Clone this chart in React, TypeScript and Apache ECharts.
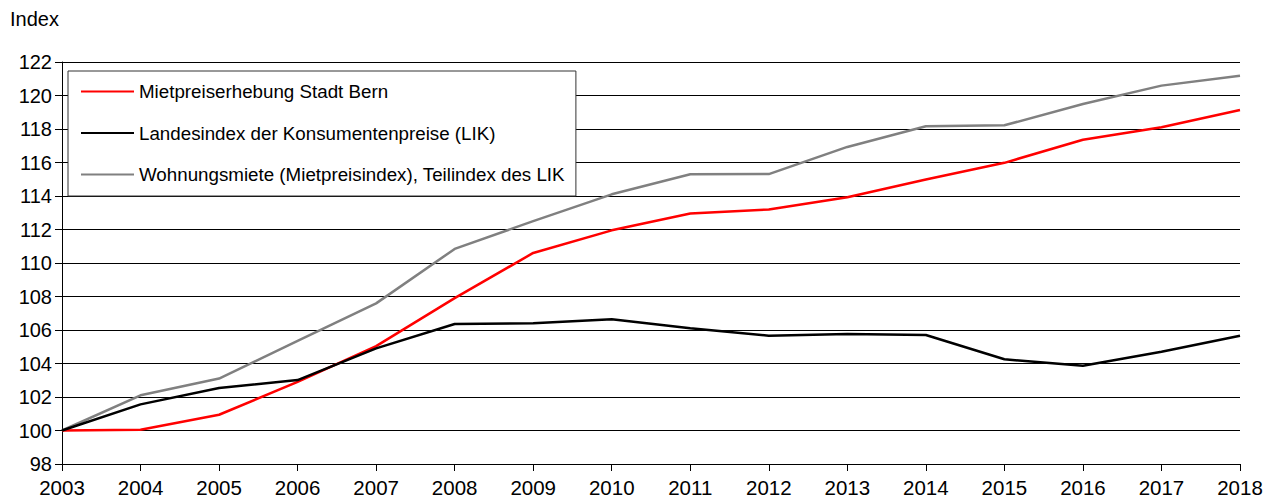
import React, { useEffect, useRef } from "react";
import * as echarts from "echarts";

const years = ["2003","2004","2005","2006","2007","2008","2009","2010","2011","2012","2013","2014","2015","2016","2017","2018"];
const mietpreisBern = [100, 100.05, 100.94, 102.9, 105.04, 107.9, 110.6, 111.95, 112.95, 113.2, 113.92, 114.98, 115.98, 117.36, 118.11, 119.14];
const lik = [100, 101.56, 102.54, 103.01, 104.9, 106.36, 106.4, 106.64, 106.1, 105.66, 105.76, 105.7, 104.25, 103.87, 104.7, 105.66];
const wohnungsmiete = [100, 102.1, 103.1, 105.35, 107.59, 110.84, 112.5, 114.1, 115.3, 115.31, 116.93, 118.16, 118.22, 119.49, 120.59, 121.18];
const seriesNames = [
  "Mietpreiserhebung Stadt Bern",
  "Landesindex der Konsumentenpreise (LIK)",
  "Wohnungsmiete (Mietpreisindex), Teilindex des LIK",
];
const FONT = "'Liberation Sans', Arial, sans-serif";

export default function App() {
  const ref = useRef<HTMLDivElement>(null);
  useEffect(() => {
    if (!ref.current) return;
    const chart = echarts.init(ref.current, null, { renderer: "svg" });
    chart.setOption({
      animation: false,
      backgroundColor: "#ffffff",
      textStyle: { fontFamily: FONT },
      grid: { left: 62, right: 38, top: 62, bottom: 36, containLabel: false },
      graphic: [
        {
          type: "text",
          left: 10,
          top: 9,
          style: { text: "Index", fontSize: 20, fontFamily: FONT, fill: "#000" },
        },
      ],
      legend: {
        orient: "vertical",
        left: 68,
        top: 71,
        padding: [11, 11, 12, 12],
        itemGap: 22.5,
        itemWidth: 53,
        itemHeight: 20,
        borderColor: "#333",
        borderWidth: 1,
        backgroundColor: "#fff",
        itemStyle: { opacity: 0 },
        textStyle: { fontSize: 18.75, color: "#000", fontFamily: FONT },
        data: seriesNames,
      },
      xAxis: {
        type: "category",
        data: years,
        boundaryGap: false,
        axisLine: { lineStyle: { color: "#000", width: 1 } },
        axisTick: { show: true, length: 7, lineStyle: { color: "#000" } },
        axisLabel: { color: "#000", fontSize: 20.5, margin: 13, fontFamily: FONT },
        splitLine: { show: false },
      },
      yAxis: {
        type: "value",
        min: 98,
        max: 122,
        interval: 2,
        axisLine: { show: true, lineStyle: { color: "#000", width: 1 } },
        axisTick: { show: true, length: 7, lineStyle: { color: "#000" } },
        axisLabel: { color: "#000", fontSize: 20, margin: 10, fontFamily: FONT },
        splitLine: { show: true, lineStyle: { color: "#000", width: 1 } },
      },
      series: [
        {
          name: seriesNames[2],
          type: "line",
          data: wohnungsmiete,
          symbol: "none",
          lineStyle: { color: "#808080", width: 2.5 },
          itemStyle: { color: "#808080" },
        },
        {
          name: seriesNames[0],
          type: "line",
          data: mietpreisBern,
          symbol: "none",
          lineStyle: { color: "#ff0000", width: 2.5 },
          itemStyle: { color: "#ff0000" },
        },
        {
          name: seriesNames[1],
          type: "line",
          data: lik,
          symbol: "none",
          lineStyle: { color: "#000000", width: 2.5 },
          itemStyle: { color: "#000000" },
        },
      ],
    });
    return () => chart.dispose();
  }, []);
  return (
    <div
      ref={ref}
      style={{ position: "fixed", left: 0, top: 0, width: 1278, height: 500 }}
    />
  );
}
